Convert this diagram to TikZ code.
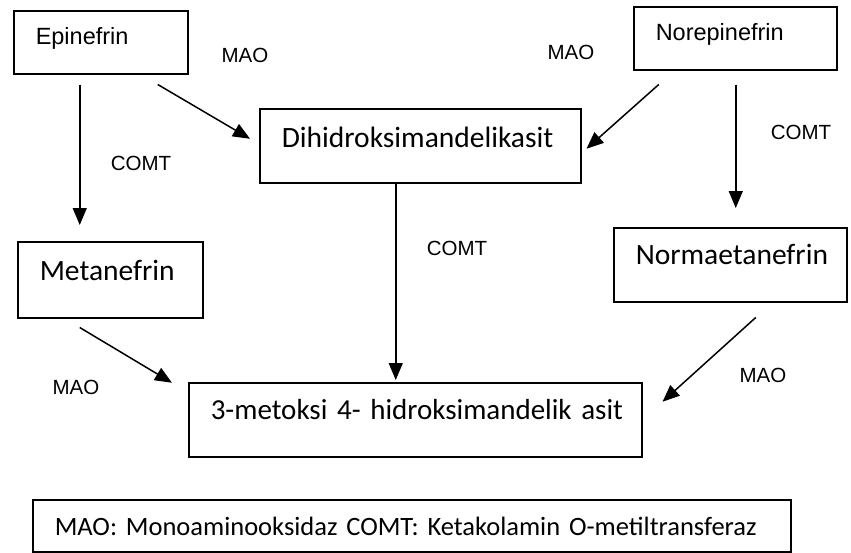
\documentclass[tikz,border=0pt]{standalone}
\usepackage{fontspec}
\setmainfont{Carlito}
\newfontfamily\arialfont{Liberation Sans}
\usetikzlibrary{arrows.meta}
\tikzset{
  box/.style={draw,line width=1.5pt,anchor=north west,inner xsep=22pt,inner ysep=0pt,align=left,font=\fontsize{29.5}{33}\selectfont},
  sbox/.style={box,font=\arialfont\fontsize{23.5}{27}\selectfont},
  lbl/.style={font=\arialfont\fontsize{20.5}{24}\selectfont,inner sep=0pt},
  arr/.style={-{Triangle[length=17pt,width=14pt]},line width=1.5pt}
}
\begin{document}
\begin{tikzpicture}[x=1pt,y=-1pt]
\useasboundingbox[fill=white] (0,0) rectangle (851,552);
\node[sbox,text width=130pt,text height=34pt,text depth=29pt] (epi) at (13,10) {Epinefrin};
\node[sbox,text width=159pt,text height=34pt,text depth=29pt] (nor) at (633,6) {Norepinefrin};
\node[box,text width=277pt,text height=39pt,text depth=35pt] (dih) at (259,108) {Dihidroksimandelikasit};
\node[box,text width=141pt,text height=39pt,text depth=37pt] (met) at (17,241) {Metanefrin};
\node[box,text width=189pt,text height=37pt,text depth=37pt] (nme) at (613,227) {Normaetanefrin};
\node[box,font=\fontsize{29}{33}\selectfont,text width=409pt,text height=37pt,text depth=37pt] (mha) at (188,382) {\mbox{3-metoksi 4- hidroksimandelik asit}};
\node[box,font=\fontsize{26.5}{30}\selectfont,text width=714pt,text height=36pt,text depth=16pt] (leg) at (32,499) {\mbox{MAO: Monoaminooksidaz COMT: Ketakolamin O-metiltransferaz}};
\node[lbl] (mao1) at (245,55) {MAO};
\node[lbl] (mao2) at (571,52) {MAO};
\node[lbl] (comt1) at (141,163) {COMT};
\node[lbl] (comt2) at (801,132) {COMT};
\node[lbl] (comt3) at (457,248) {COMT};
\node[lbl] (mao3) at (76,387) {MAO};
\node[lbl] (mao4) at (763,375) {MAO};
\draw[arr] ([shift={(57,10)}]epi.south) -- ([shift={(-9,-7)}]dih.west);
\draw[arr] ([shift={(-21,10)}]epi.south) -- ([shift={(-30.5,-16)}]met.north);
\draw[arr] ([shift={(-76.5,14)}]nor.south) -- ([shift={(5,3)}]dih.east);
\draw[arr] ([shift={(0.5,14)}]nor.south) -- ([shift={(5.5,-19)}]nme.north);
\draw[arr] ([shift={(-24.5,0)}]dih.south) -- ([shift={(-19.5,-2)}]mha.north);
\draw[arr] ([shift={(-30.5,9)}]met.south) -- ([shift={(-16,-37)}]mha.west);
\draw[arr] ([shift={(25.5,15)}]nme.south) -- ([shift={(20,-18)}]mha.east);
\end{tikzpicture}
\end{document}
